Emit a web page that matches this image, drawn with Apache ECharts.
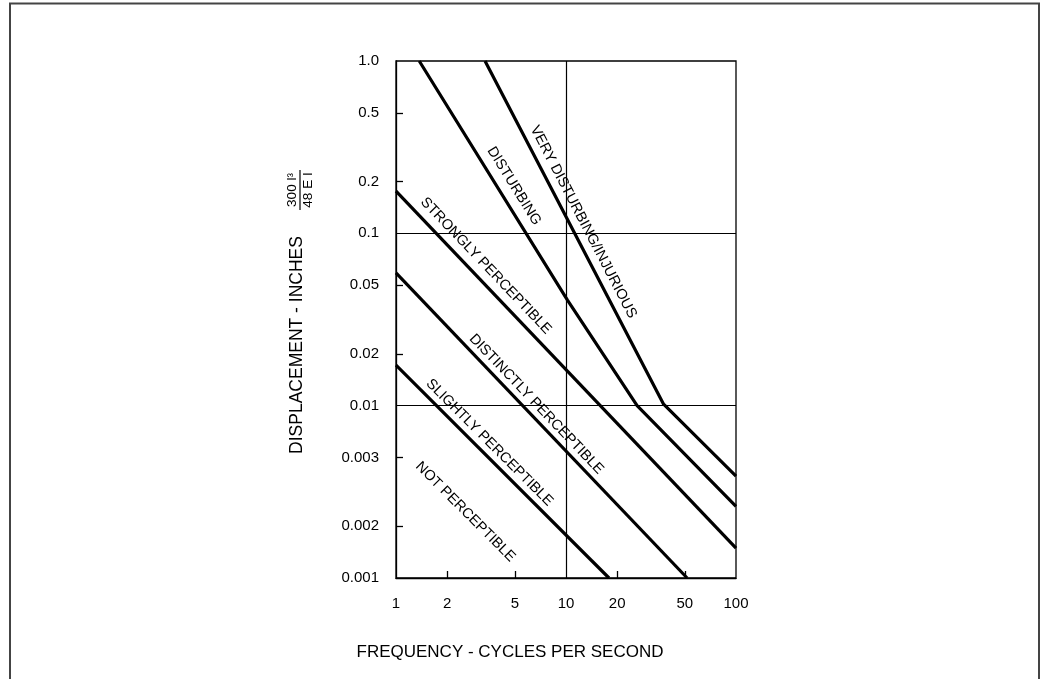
<!DOCTYPE html>
<html>
<head>
<meta charset="utf-8">
<script src="https://cdn.jsdelivr.net/npm/echarts@6/dist/echarts.min.js"></script>
<style>
html,body{margin:0;padding:0;background:#fff;}
#chart{width:1046px;height:679px;}
</style>
</head>
<body>
<div id="chart"></div>
<script>
// ---------------- data ----------------
const xTickValues = [1, 2, 5, 10, 20, 50, 100];
const xTickLabels = ['1', '2', '5', '10', '20', '50', '100'];
const yTickValues = [0.001, 0.002, 0.005, 0.01, 0.02, 0.05, 0.1, 0.2, 0.5, 1];
const yTickLabels = ['0.001', '0.002', '0.003', '0.01', '0.02', '0.05', '0.1', '0.2', '0.5', '1.0'];
const gridFrequencies = [10];
const gridDisplacements = [0.01, 0.1];

// boundary lines: [frequency (cps), displacement (in)]
const boundary1 = [[1, 0.0172], [17.9, 0.001]];
const boundary2 = [[1, 0.059], [51.6, 0.001]];
const boundary3 = [[1, 0.176], [100, 0.00149]];
const boundary4 = [[1.37, 1.0], [10.2, 0.041], [26.2, 0.01], [100, 0.0026]];
const boundary5 = [[3.34, 1.0], [37.5, 0.0102], [100, 0.0039]];

const zoneNames = ['NOT PERCEPTIBLE', 'SLIGHTLY PERCEPTIBLE', 'DISTINCTLY PERCEPTIBLE',
                   'STRONGLY PERCEPTIBLE', 'DISTURBING', 'VERY DISTURBING/INJURIOUS'];
const zoneAnchors = [[2.56, 0.00242], [3.55, 0.0061], [6.7, 0.0102],
                     [3.38, 0.0648], [4.95, 0.188], [12.65, 0.1164]];

const xTitle = 'FREQUENCY - CYCLES PER SECOND';
const yTitle = 'DISPLACEMENT - INCHES';
const yNumerator = '300 l³';
const yDenominator = '48 E I';

// ---------------- chart ----------------
const FONT = "'Liberation Sans', Arial, Helvetica, sans-serif";
const lg = v => Math.log10(v);
const boundaries = [boundary1, boundary2, boundary3, boundary4, boundary5];
const zoneRef = [0, 0, 1, 2, 3, 4]; // which boundary each zone label follows

function labelFor(values, labels) {
  return function (v) {
    for (let i = 0; i < values.length; i++) {
      if (Math.abs(lg(values[i]) - v) < 1e-6) return labels[i];
    }
    return '';
  };
}
const xMin = lg(xTickValues[0]), xMax = lg(xTickValues[xTickValues.length - 1]);
const yMin = lg(yTickValues[0]), yMax = lg(yTickValues[yTickValues.length - 1]);
const xMinorTicks = xTickValues.filter(v => gridFrequencies.indexOf(v) < 0 && lg(v) > xMin && lg(v) < xMax).map(lg);
const yMinorTicks = yTickValues.filter(v => gridDisplacements.indexOf(v) < 0 && lg(v) > yMin && lg(v) < yMax).map(lg);

const chart = echarts.init(document.getElementById('chart'), null, {renderer: 'canvas'});

const series = boundaries.map((b, i) => ({
  type: 'line',
  data: b.map(p => [lg(p[0]), lg(p[1])]),
  showSymbol: false,
  symbol: 'none',
  lineStyle: {color: '#000', width: 3.2},
  z: 3,
  silent: true
}));
series[0].markLine = {
  silent: true,
  symbol: 'none',
  label: {show: false},
  lineStyle: {color: '#000', width: 1.2, type: 'solid'},
  data: gridFrequencies.map(f => ({xAxis: lg(f)})).concat(gridDisplacements.map(d => ({yAxis: lg(d)})))
};

chart.setOption({
  animation: false,
  backgroundColor: '#fff',
  grid: {left: 396, top: 61, width: 340, height: 517, show: true, borderColor: '#000', borderWidth: 1.3},
  xAxis: {
    type: 'value', min: xMin, max: xMax, position: 'bottom',
    axisLine: {show: true, onZero: false, lineStyle: {color: '#000', width: 1.3}},
    axisTick: {show: true, inside: true, length: 7, customValues: xMinorTicks, lineStyle: {color: '#000', width: 1.3}},
    axisLabel: {customValues: xTickValues.map(lg), formatter: labelFor(xTickValues, xTickLabels),
                fontSize: 15, color: '#000', margin: 18, fontFamily: FONT},
    splitLine: {show: false}
  },
  yAxis: {
    type: 'value', min: yMin, max: yMax, position: 'left',
    axisLine: {show: true, onZero: false, lineStyle: {color: '#000', width: 1.3}},
    axisTick: {show: true, inside: true, length: 7, customValues: yMinorTicks, lineStyle: {color: '#000', width: 1.3}},
    axisLabel: {customValues: yTickValues.map(lg), formatter: labelFor(yTickValues, yTickLabels),
                fontSize: 15, color: '#000', margin: 17, fontFamily: FONT},
    splitLine: {show: false}
  },
  series: series
});

// labels and titles (zone labels positioned from data through the chart's own scales)
const graphics = [];
graphics.push({
  type: 'rect', shape: {x: 10, y: 3.5, width: 1029, height: 700}, silent: true,
  style: {fill: 'none', stroke: '#444', lineWidth: 2}
});
zoneNames.forEach((name, i) => {
  const b = boundaries[zoneRef[i]];
  const p0 = chart.convertToPixel({gridIndex: 0}, [lg(b[0][0]), lg(b[0][1])]);
  const p1 = chart.convertToPixel({gridIndex: 0}, [lg(b[1][0]), lg(b[1][1])]);
  const ang = Math.atan2(p1[1] - p0[1], p1[0] - p0[0]);
  const a = chart.convertToPixel({gridIndex: 0}, [lg(zoneAnchors[i][0]), lg(zoneAnchors[i][1])]);
  graphics.push({
    type: 'text', x: a[0], y: a[1], rotation: -ang, silent: true,
    style: {text: name, fontSize: 14.5, fontFamily: FONT, fill: '#000', align: 'center', verticalAlign: 'middle'}
  });
});
graphics.push({
  type: 'text', x: 510, y: 652, silent: true,
  style: {text: xTitle, fontSize: 17, fontFamily: FONT, fill: '#000', align: 'center', verticalAlign: 'middle'}
});
graphics.push({
  type: 'text', x: 297, y: 345, rotation: Math.PI / 2, silent: true,
  style: {text: yTitle, fontSize: 17.5, fontFamily: FONT, fill: '#000', align: 'center', verticalAlign: 'middle'}
});
graphics.push({
  type: 'group', x: 300, y: 190, rotation: Math.PI / 2, silent: true,
  children: [
    {type: 'text', x: 0, y: -8, style: {text: yNumerator, fontSize: 13.5, fontFamily: FONT, fill: '#000', align: 'center', verticalAlign: 'middle'}},
    {type: 'line', shape: {x1: -20, y1: 0, x2: 20, y2: 0}, style: {stroke: '#000', lineWidth: 1.2}},
    {type: 'text', x: 0, y: 8, style: {text: yDenominator, fontSize: 13.5, fontFamily: FONT, fill: '#000', align: 'center', verticalAlign: 'middle'}}
  ]
});
chart.setOption({graphic: graphics});
</script>
</body>
</html>
